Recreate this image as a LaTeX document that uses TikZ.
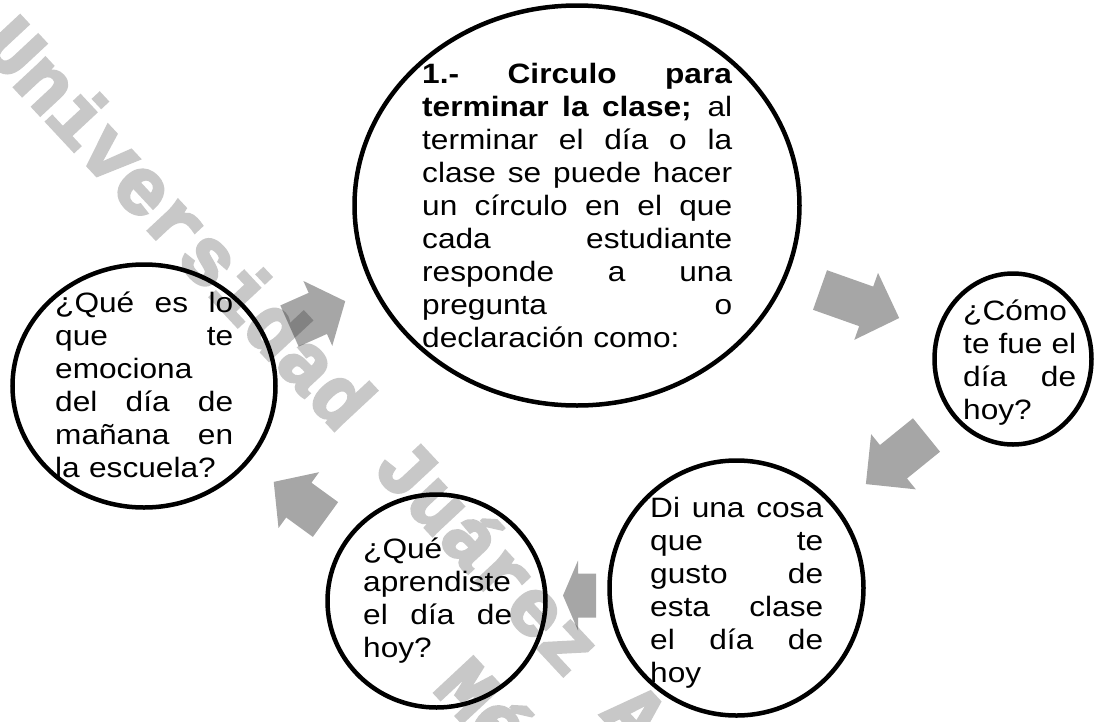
\documentclass[tikz,border=0pt]{standalone}
\usepackage{fontspec}
\setmainfont{Liberation Sans}[FakeStretch=1.13]
\newfontfamily\wmfont{Liberation Mono}[FakeBold=4]
\usetikzlibrary{shapes.geometric}
\definecolor{wmgray}{RGB}{200,200,200}
\newcommand\jl[1]{\makebox[\hsize][s]{\spaceskip=\fontdimen2\font plus 1fil\relax #1}\par}
% tail x, tail y, angle, length, shaft width, head width, head length
\newcommand\blockarrow[7]{%
  \fill[black, fill opacity=0.35, shift={(#1,#2)}, rotate=#3]
    (0,-#5/2) -- (#4-#7,-#5/2) -- (#4-#7,-#6/2) -- (#4,0) --
    (#4-#7,#6/2) -- (#4-#7,#5/2) -- (0,#5/2) -- cycle;}
\begin{document}
\begin{tikzpicture}[x=1pt,y=-1pt,
  circ/.style={draw, ellipse, line width=4.5pt, inner sep=0pt},
  txt/.style={anchor=base west, inner sep=0pt, font=\fontsize{28}{33}\selectfont},
  wm/.style={anchor=base west, inner sep=0pt, text=wmgray,
    font=\wmfont\bfseries\fontsize{80}{90}\selectfont, rotate=-47}]
\useasboundingbox (0,0) rectangle (1096,721);
\clip (0,0) rectangle (1096,721);
\fill[white] (0,0) rectangle (1096,721);

% watermark
\node[wm] (wm1) at (-22,48) {Universidad Juárez Autónoma de Tabasco};
\node[wm] (wm2) at (432,690) {México};

% block arrows
\blockarrow{289.5}{326}{24}{61}{45}{71}{30}
\blockarrow{820}{290}{-19.5}{84}{42}{71}{35}
\blockarrow{926.5}{435}{-141}{78}{43}{71}{35.5}
\blockarrow{596}{595.5}{180}{33}{44}{70}{15}
\blockarrow{325.5}{519.5}{144}{64}{43}{69}{31}

% circles
\node[circ, minimum width=445pt, minimum height=400pt] (main) at (577,205.5) {};
\node[circ, minimum width=263pt, minimum height=243pt] (left) at (144,386) {};
\node[circ, minimum width=157pt, minimum height=171pt] (right) at (1013,359) {};
\node[circ, minimum width=254pt, minimum height=255pt] (di) at (736.5,588) {};
\node[circ, minimum width=218pt, minimum height=213pt] (que) at (436.5,601) {};

% texts
\node[txt, text width=310pt] (maintext) at (422,83)
  {\jl{\textbf{1.- Circulo para}}\jl{\textbf{terminar la clase;} al}\jl{terminar el día o la}\jl{clase se puede hacer}\jl{un círculo en el que}\jl{cada estudiante}\jl{responde a una}\jl{pregunta o}declaración como:};
\node[txt, text width=178pt] (lefttext) at (55,312)
  {\jl{¿Qué es lo}\jl{que te}emociona\par\jl{del día de}\jl{mañana en}la escuela?};
\node[txt, text width=113pt] (righttext) at (963,320)
  {¿Cómo\par\jl{te fue el}\jl{día de}hoy?};
\node[txt, text width=173pt] (ditext) at (650,517)
  {\jl{Di una cosa}\jl{que te}\jl{gusto de}\jl{esta clase}\jl{el día de}hoy};
\node[txt, text width=149pt] (quetext) at (363,558)
  {¿Qué\par aprendiste\par\jl{el día de}hoy?};
\end{tikzpicture}
\end{document}
